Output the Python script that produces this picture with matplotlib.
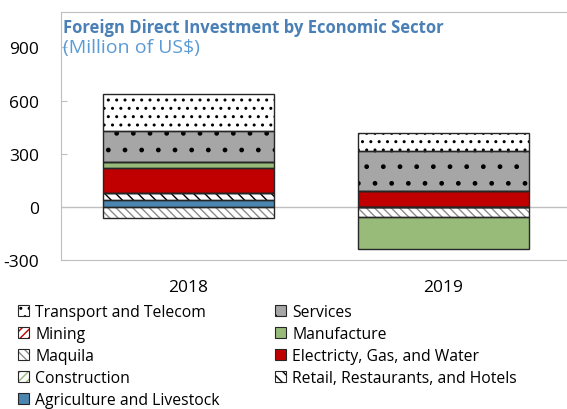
import matplotlib
matplotlib.use("Agg")
import matplotlib.pyplot as plt
import numpy as np

plt.rcParams['font.family'] = ['Open Sans', 'DejaVu Sans']
plt.rcParams['hatch.linewidth'] = 1.0
plt.rcParams['axes.unicode_minus'] = False

# data (million US$)
years = ['2018', '2019']
sectors = ['Transport and Telecom', 'Services', 'Mining', 'Manufacture', 'Maquila',
           'Electricty, Gas, and Water', 'Construction', 'Retail, Restaurants, and Hotels',
           'Agriculture and Livestock']
transport = [207, 103]
services = [174, 221]
mining = [0, 0]
manufacture = [36, -180]
maquila = [-62, -60]
electricity = [142, 92]
construction = [0, 0]
retail = [36, 0]
agriculture = [41, 0]
yticks = [-300, 0, 300, 600, 900]

values = [transport, services, mining, manufacture, maquila,
          electricity, construction, retail, agriculture]

# fill colour, hatch, hatch colour
styles = {
    'Transport and Telecom': ('white', '..', 'black'),
    'Services': ('#a6a6a6', '.', 'black'),
    'Mining': ('white', '////', '#c00000'),
    'Manufacture': ('#98bb7a', None, None),
    'Maquila': ('white', '\\\\\\\\', '#8c8c8c'),
    'Electricty, Gas, and Water': ('#c00000', None, None),
    'Construction': ('white', '////', '#98bb7a'),
    'Retail, Restaurants, and Hotels': ('white', '\\\\\\', 'black'),
    'Agriculture and Livestock': ('#4a86b0', None, None),
}

fig = plt.figure(figsize=(5.67, 4.1), dpi=100)
ax = fig.add_axes([61 / 567, 1 - 261 / 410, 510 / 567, 248 / 410])

x = np.arange(len(years))
width = 0.67
pos_bottom = np.zeros(len(years))
neg_bottom = np.zeros(len(years))
handles = {}

# excel stacks the last series at the bottom
for name, vals in reversed(list(zip(sectors, values))):
    vals = np.array(vals, dtype=float)
    bottom = np.where(vals >= 0, pos_bottom, neg_bottom)
    fc, hatch, hc = styles[name]
    ax.bar(x, vals, width, bottom=bottom, color=fc, linewidth=0, zorder=2)
    if hatch:
        ax.bar(x, vals, width, bottom=bottom, fill=False, hatch=hatch,
               edgecolor=hc, linewidth=0, zorder=2)
    ax.bar(x, vals, width, bottom=bottom, fill=False, edgecolor='#262626',
           linewidth=1, zorder=3)
    pos_bottom = pos_bottom + np.where(vals > 0, vals, 0)
    neg_bottom = neg_bottom + np.where(vals < 0, vals, 0)

    h = [plt.Rectangle((0, 0), 1, 1, facecolor=fc, linewidth=0)]
    if hatch:
        h.append(plt.Rectangle((0, 0), 1, 1, fill=False, hatch=hatch, edgecolor=hc, linewidth=0))
    h.append(plt.Rectangle((0, 0), 1, 1, fill=False, edgecolor='#262626', linewidth=0.8))
    handles[name] = tuple(h)

ax.axhline(0, color='#bfbfbf', linewidth=1, zorder=1)
ax.set_xlim(-0.5, 1.5)
ax.set_ylim(-300, 1100)
ax.set_yticks(yticks)
ax.set_xticks(x)
ax.set_xticklabels(years)
ax.tick_params(axis='y', direction='in', length=4, color='#bfbfbf', labelsize=12.5, pad=15.5)
ax.tick_params(axis='x', length=0, labelsize=12.5, pad=14)
for s in ax.spines.values():
    s.set_color('#bfbfbf')
ax.spines['right'].set_visible(False)

fig.text(63 / 567, 1 - 33 / 410, 'Foreign Direct Investment by Economic Sector',
         fontsize=12, fontweight='bold', color='#4a80b6', va='baseline')
fig.text(63 / 567, 1 - 53 / 410, '(Million of US$)',
         fontsize=14, color='#5b9bd5', va='baseline')

# legend reads row by row in the original, matplotlib fills by column
order = [0, 2, 4, 6, 8, 1, 3, 5, 7]
fig.legend([handles[sectors[i]] for i in order], [sectors[i] for i in order],
           ncol=2, loc='upper left', bbox_to_anchor=(18 / 567, 1 - 305 / 410),
           frameon=False, fontsize=11.3, borderpad=0, borderaxespad=0,
           handlelength=0.7, handleheight=0.7, handletextpad=0.4,
           labelspacing=0.38, columnspacing=3.5)

fig.savefig('out.png', dpi=100)
